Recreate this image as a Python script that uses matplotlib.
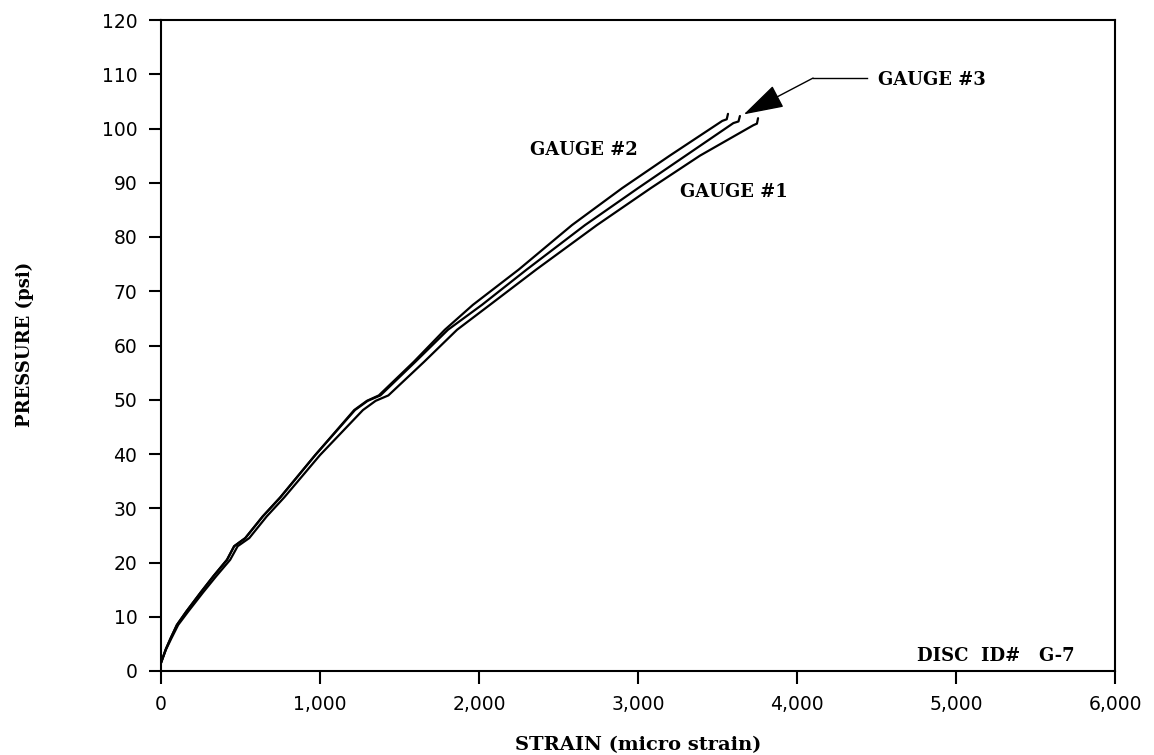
import matplotlib
matplotlib.use("Agg")
import matplotlib.pyplot as plt

# Data
g3_strain = [0, 30, 60, 100, 160, 250, 330, 415, 460, 530, 640, 750, 970, 1220, 1300, 1380,
             1600, 1805, 2019, 2300, 2667, 3000, 3300, 3600, 3632, 3641]
g3_psi = [1.5, 4.0, 6.0, 8.5, 11.0, 14.5, 17.5, 20.5, 23.0, 24.5, 28.5, 32.0, 39.8, 48.1, 49.8, 50.8,
          57.0, 62.9, 67.5, 74.0, 82.2, 89.0, 95.0, 101.0, 101.3, 102.3]

g2_strain = [0, 30, 60, 100, 160, 250, 330, 415, 460, 530, 640, 750, 970, 1215, 1295, 1370,
             1590, 1785, 1962, 2250, 2585, 2900, 3200, 3530, 3558, 3566]
g2_psi = [1.5, 4.0, 6.0, 8.5, 11.0, 14.5, 17.5, 20.5, 23.0, 24.5, 28.5, 32.0, 39.8, 48.1, 49.8, 50.8,
          57.0, 62.9, 67.5, 74.0, 82.2, 89.0, 95.0, 101.4, 101.7, 102.7]

g1_strain = [0, 32, 65, 108, 172, 265, 348, 435, 482, 555, 665, 775, 1000, 1270, 1350, 1430,
             1655, 1862, 2069, 2360, 2742, 3080, 3390, 3725, 3748, 3755]
g1_psi = [1.5, 4.0, 6.0, 8.5, 11.0, 14.5, 17.5, 20.5, 23.0, 24.5, 28.5, 32.0, 39.8, 48.1, 49.8, 50.8,
          57.0, 62.9, 67.5, 74.0, 82.2, 89.0, 95.0, 100.6, 100.9, 101.9]

x_ticks = [0, 1000, 2000, 3000, 4000, 5000, 6000]
x_tick_labels = ["0", "1,000", "2,000", "3,000", "4,000", "5,000", "6,000"]
y_ticks = list(range(0, 121, 10))

fig = plt.figure(figsize=(11.54, 7.55), dpi=100)
ax = fig.add_axes([161 / 1154, 1 - 671 / 755, (1115 - 161) / 1154, (671 - 20) / 755])

for xs, ys in [(g1_strain, g1_psi), (g2_strain, g2_psi), (g3_strain, g3_psi)]:
    ax.plot(xs, ys, color="black", lw=1.6, solid_capstyle="round", solid_joinstyle="round")

ax.set_xlim(0, 6000)
ax.set_ylim(0, 120)
ax.set_xticks(x_ticks)
ax.set_xticklabels(x_tick_labels)
ax.set_yticks(y_ticks)

for s in ax.spines.values():
    s.set_linewidth(1.5)
    s.set_color("black")

ax.tick_params(axis="both", direction="out", length=9, width=1.5, labelsize=13.5,
               colors="black", pad=8)
for lab in ax.get_xticklabels() + ax.get_yticklabels():
    lab.set_fontfamily("DejaVu Sans")

serif = dict(family="DejaVu Serif", weight="bold")
ax.set_xlabel("STRAIN (micro strain)", fontsize=14, labelpad=16, **serif)
ax.set_ylabel("PRESSURE (psi)", fontsize=13, **serif)
ax.yaxis.set_label_coords(-0.133, 0.502)

ax.text(2320, 96, "GAUGE #2", fontsize=13, ha="left", va="center", **serif)
ax.text(3264, 88.3, "GAUGE #1", fontsize=13, ha="left", va="center", **serif)
ax.text(4509, 109.0, "GAUGE #3", fontsize=13, ha="left", va="center", **serif)
ax.text(4755, 2.7, "DISC  ID#   G-7", fontsize=13, ha="left", va="center", **serif)

# Arrow pointing to gauge #3
ax.plot([4440, 4101], [109.3, 109.3], color="black", lw=1.0)
ax.annotate("", xy=(3665, 102.6), xytext=(4101, 109.3),
            arrowprops=dict(arrowstyle="-|>,head_length=1.5,head_width=0.45",
                            mutation_scale=17, color="black", lw=1.0,
                            shrinkA=0, shrinkB=0))

fig.savefig("out.png", dpi=100, facecolor="white")
